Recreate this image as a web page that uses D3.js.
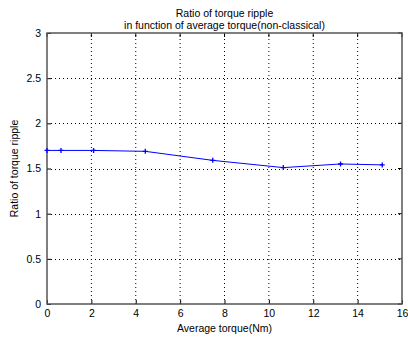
<!DOCTYPE html>
<html>
<head>
<meta charset="utf-8">
<script src="https://cdn.jsdelivr.net/npm/d3@7"></script>
<style>
body { margin:0; background:#fff; }
text { font-family: "Liberation Sans", Arial, sans-serif; font-size:10px; fill:#000; }
</style>
</head>
<body>
<div id="chart"></div>
<script>
// data
var torque = [0, 0.63, 2.1, 4.43, 7.47, 10.65, 13.23, 15.11];
var ripple = [1.70, 1.70, 1.70, 1.69, 1.59, 1.51, 1.55, 1.54];
var xticks = [0, 2, 4, 6, 8, 10, 12, 14, 16];
var yticks = [0, 0.5, 1, 1.5, 2, 2.5, 3];

var W = 408, H = 342;
var m = {left:47, right:6, top:33, bottom:38};

var svg = d3.select("#chart").append("svg").attr("width", W).attr("height", H);

var x = d3.scaleLinear().domain([0, 16]).range([m.left, W - m.right]);
var y = d3.scaleLinear().domain([0, 3]).range([H - m.bottom, m.top]);

// grid, dotted
var grid = svg.append("g");
grid.selectAll(".gx").data(xticks.slice(1, -1)).enter().append("line")
  .attr("x1", function(d){ return x(d); }).attr("x2", function(d){ return x(d); })
  .attr("y1", y(0)).attr("y2", y(3))
  .attr("stroke", "#000").attr("stroke-width", 1).attr("stroke-dasharray", "1,3");
grid.selectAll(".gy").data(yticks.slice(1, -1)).enter().append("line")
  .attr("y1", function(d){ return Math.round(y(d)) + 0.5; }).attr("y2", function(d){ return Math.round(y(d)) + 0.5; })
  .attr("x1", x(0)).attr("x2", x(16))
  .attr("stroke", "#000").attr("stroke-width", 1).attr("stroke-dasharray", "1,3");

// axes (ticks inward)
var xAxis = d3.axisBottom(x).tickValues(xticks).tickSize(-4).tickPadding(6).tickFormat(d3.format("d"));
var yAxis = d3.axisLeft(y).tickValues(yticks).tickSize(-4).tickPadding(6).tickFormat(function(d){ return String(d); });

var gx = svg.append("g").attr("transform", "translate(0," + y(0) + ")").call(xAxis);
var gy = svg.append("g").attr("transform", "translate(" + x(0) + ",0)").call(yAxis);
[gx, gy].forEach(function(g){
  g.select(".domain").remove();
  g.selectAll("line").attr("stroke", "#000");
  g.selectAll("text").style("font-size", "10.5px");
});

// top/right ticks
svg.append("g").selectAll("line").data(xticks).enter().append("line")
  .attr("x1", function(d){ return x(d); }).attr("x2", function(d){ return x(d); })
  .attr("y1", y(3)).attr("y2", y(3) + 4).attr("stroke", "#000");
svg.append("g").selectAll("line").data(yticks).enter().append("line")
  .attr("y1", function(d){ return y(d); }).attr("y2", function(d){ return y(d); })
  .attr("x1", x(16)).attr("x2", x(16) - 4).attr("stroke", "#000");

// box
svg.append("rect").attr("x", x(0)).attr("y", y(3))
  .attr("width", x(16) - x(0)).attr("height", y(0) - y(3))
  .attr("fill", "none").attr("stroke", "#555").attr("stroke-width", 1.5);

// line
var line = d3.line()
  .x(function(d, i){ return x(torque[i]); })
  .y(function(d){ return y(d); });
svg.append("path").datum(ripple).attr("d", line)
  .attr("fill", "none").attr("stroke", "#0000ff").attr("stroke-width", 1);

// markers
var mk = svg.append("g");
ripple.forEach(function(v, i){
  var cx = x(torque[i]), cy = y(v);
  mk.append("path").attr("d", "M" + (cx - 2.5) + "," + cy + "H" + (cx + 2.5) + "M" + cx + "," + (cy - 2.5) + "V" + (cy + 2.5))
    .attr("stroke", "#0000ff").attr("stroke-width", 1.3);
});

// title and labels
var tcx = (x(0) + x(16)) / 2;
svg.append("text").attr("x", tcx).attr("y", 17).attr("text-anchor", "middle").style("font-size", "10.5px").text("Ratio of torque ripple");
svg.append("text").attr("x", tcx).attr("y", 29).attr("text-anchor", "middle").style("font-size", "10.5px").text("in function of average torque(non-classical)");
svg.append("text").attr("x", tcx).attr("y", 332).attr("text-anchor", "middle").style("font-size", "10.5px").text("Average torque(Nm)");
svg.append("text").attr("transform", "translate(18," + ((y(0) + y(3)) / 2) + ") rotate(-90)")
  .attr("text-anchor", "middle").style("font-size", "10.5px").text("Ratio of torque ripple");
</script>
</body>
</html>
